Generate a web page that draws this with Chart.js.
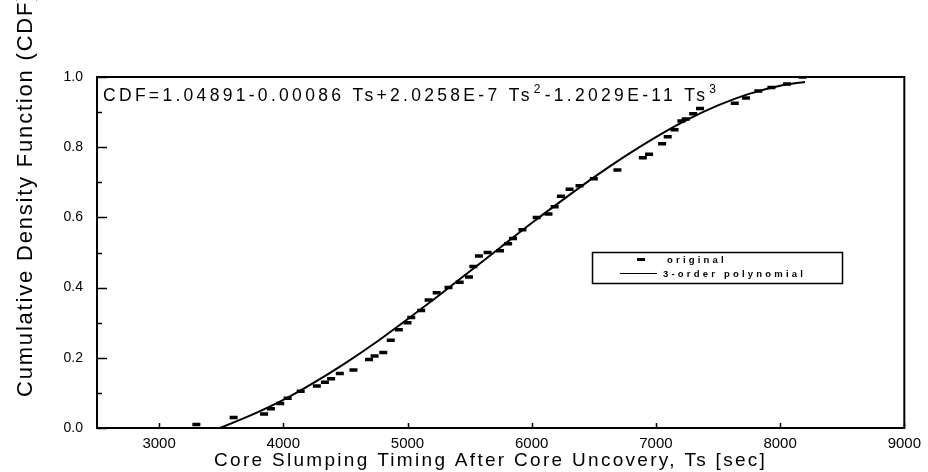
<!DOCTYPE html>
<html>
<head>
<meta charset="utf-8">
<script src="https://cdn.jsdelivr.net/npm/chart.js@4.4.0/dist/chart.umd.min.js"></script>
<style>
  html, body { margin: 0; padding: 0; background: #fff; }
  #wrap { width: 928px; height: 472px; }
</style>
</head>
<body>
<div id="wrap"><canvas id="cdf-chart" width="928" height="472"></canvas></div>
<script>
// values
const origX = [3300, 3600, 3845, 3900, 3975, 4035, 4140, 4270, 4335, 4385, 4455, 4565, 4690, 4735, 4805,
  4865, 4930, 5000, 5030, 5110, 5170, 5235, 5330, 5420, 5495, 5530, 5575, 5645, 5745, 5810,
  5850, 5925, 6040, 6135, 6185, 6235, 6305, 6385, 6500, 6690, 6895, 6945, 7050, 7095, 7150,
  7205, 7240, 7300, 7355, 7635, 7725, 7825, 7930, 8055, 8180];
const origY = [0.01, 0.03, 0.04, 0.055, 0.07, 0.085, 0.105, 0.12, 0.13, 0.14, 0.155, 0.165, 0.195, 0.205, 0.215,
  0.25, 0.28, 0.30, 0.315, 0.335, 0.365, 0.385, 0.40, 0.415, 0.43, 0.46, 0.49, 0.50, 0.505, 0.525,
  0.54, 0.565, 0.60, 0.61, 0.63, 0.66, 0.68, 0.69, 0.71, 0.735, 0.77, 0.78, 0.81, 0.83, 0.85,
  0.875, 0.88, 0.895, 0.91, 0.925, 0.94, 0.96, 0.97, 0.98, 1.0];

const fitX = [3490, 3750, 4000, 4250, 4500, 4750, 5000, 5250, 5500, 5750, 6000,
  6250, 6500, 6750, 7000, 7250, 7500, 7750, 8000, 8200];
const fitY = [0.0, 0.038, 0.080, 0.130, 0.185, 0.245, 0.310, 0.377, 0.446, 0.515, 0.584,
  0.650, 0.714, 0.774, 0.829, 0.878, 0.919, 0.952, 0.975, 0.986];

const xTicks = [3000, 4000, 5000, 6000, 7000, 8000, 9000];
const yTicks = [0, 0.2, 0.4, 0.6, 0.8, 1.0];
const yMinorTicks = [0.1, 0.3, 0.5, 0.7, 0.9];

const xTitle = 'Core Slumping Timing After Core Uncovery, Ts [sec]';
const yTitle = 'Cumulative Density Function (CDF)';
const legendLabels = ['original', '3-order polynomial'];
// equation text, second item says if it is a superscript
const eqParts = [['CDF=1.04891-0.00086 Ts+2.0258E-7 Ts', false], ['2', true], ['-1.2029E-11 Ts', false], ['3', true]];

const FONT = "'Liberation Sans', Arial, Helvetica, sans-serif";

// frame, inward ticks, equation, legend and axis titles
const decorPlugin = {
  id: 'decor',
  afterDraw(chart) {
    const ctx = chart.ctx;
    const area = chart.chartArea;
    const xs = chart.scales.x;
    const ys = chart.scales.y;

    ctx.save();
    ctx.strokeStyle = '#000';
    ctx.fillStyle = '#000';

    // plot frame
    ctx.lineWidth = 2;
    ctx.strokeRect(area.left, area.top, area.right - area.left, area.bottom - area.top);

    // ticks pointing into the plot
    ctx.lineWidth = 1.5;
    ctx.beginPath();
    xTicks.forEach(v => {
      const px = Math.round(xs.getPixelForValue(v)) + 0.5;
      ctx.moveTo(px, area.bottom);
      ctx.lineTo(px, area.bottom - 5);
    });
    yTicks.forEach(v => {
      const py = Math.round(ys.getPixelForValue(v)) + 0.5;
      ctx.moveTo(area.left, py);
      ctx.lineTo(area.left + 10, py);
    });
    yMinorTicks.forEach(v => {
      const py = Math.round(ys.getPixelForValue(v)) + 0.5;
      ctx.moveTo(area.left, py);
      ctx.lineTo(area.left + 5, py);
    });
    ctx.stroke();

    // fit equation
    ctx.textBaseline = 'alphabetic';
    ctx.textAlign = 'left';
    ctx.letterSpacing = '3.3px';
    let ex = area.left + 6;
    const ey = area.top + 24;
    eqParts.forEach(([txt, sup]) => {
      ctx.font = sup ? `12px ${FONT}` : `17.5px ${FONT}`;
      ctx.fillText(txt, sup ? ex + 1 : ex, sup ? ey - 8 : ey);
      ex += ctx.measureText(txt).width + (sup ? 2 : 0);
    });

    // legend box
    const lx = 592.5, ly = 252.5, lw = 250, lh = 31;
    ctx.letterSpacing = '0px';
    ctx.lineWidth = 1.5;
    ctx.strokeRect(lx, ly, lw, lh);
    ctx.lineWidth = 3;
    ctx.beginPath();
    ctx.moveTo(637, 259.5);
    ctx.lineTo(645, 259.5);
    ctx.stroke();
    ctx.lineWidth = 1.2;
    ctx.beginPath();
    ctx.moveTo(620, 273.5);
    ctx.lineTo(657, 273.5);
    ctx.stroke();
    ctx.font = `bold 9.5px ${FONT}`;
    ctx.letterSpacing = '3.2px';
    ctx.textBaseline = 'middle';
    ctx.fillText(legendLabels[0], 667, 260);
    ctx.fillText(legendLabels[1], 663, 274);

    // x axis title
    ctx.font = `19px ${FONT}`;
    ctx.letterSpacing = '2.3px';
    ctx.textBaseline = 'alphabetic';
    ctx.fillText(xTitle, 214, 466);

    // y axis title, runs off the top of the page like the scan
    ctx.translate(32, 397);
    ctx.rotate(-Math.PI / 2);
    ctx.font = `22px ${FONT}`;
    ctx.letterSpacing = '1.8px';
    ctx.fillText(yTitle, 0, 0);

    ctx.restore();
  }
};

Chart.defaults.font.family = FONT;
Chart.defaults.color = '#000';

new Chart(document.getElementById('cdf-chart'), {
  type: 'scatter',
  data: {
    datasets: [
      {
        label: legendLabels[0],
        data: origX.map((x, i) => ({ x, y: origY[i] })),
        showLine: false,
        pointStyle: 'line',
        pointRadius: 4,
        pointBorderWidth: 3.5,
        borderColor: '#000',
        backgroundColor: '#000'
      },
      {
        label: legendLabels[1],
        type: 'line',
        data: fitX.map((x, i) => ({ x, y: fitY[i] })),
        showLine: true,
        pointRadius: 0,
        borderWidth: 2,
        borderColor: '#000',
        cubicInterpolationMode: 'monotone',
        fill: false
      }
    ]
  },
  options: {
    responsive: false,
    animation: false,
    devicePixelRatio: 1,
    layout: { padding: { top: 77, right: 20, left: 0, bottom: 0 } },
    plugins: {
      legend: { display: false },
      tooltip: { enabled: false }
    },
    scales: {
      x: {
        type: 'linear',
        min: 2500,
        max: 9000,
        grid: { display: false, drawTicks: false },
        border: { display: false },
        afterBuildTicks: s => { s.ticks = xTicks.map(v => ({ value: v })); },
        afterFit: s => { s.height = 44; },
        ticks: {
          padding: 7,
          maxRotation: 0,
          font: { size: 15 },
          callback: v => String(v)
        }
      },
      y: {
        min: 0,
        max: 1,
        grid: { display: false, drawTicks: false },
        border: { display: false },
        afterBuildTicks: s => { s.ticks = yTicks.map(v => ({ value: v })); },
        afterFit: s => { s.width = 97; },
        ticks: {
          padding: 14,
          font: { size: 14 },
          callback: v => v.toFixed(1)
        }
      }
    }
  },
  plugins: [decorPlugin]
});
</script>
</body>
</html>
